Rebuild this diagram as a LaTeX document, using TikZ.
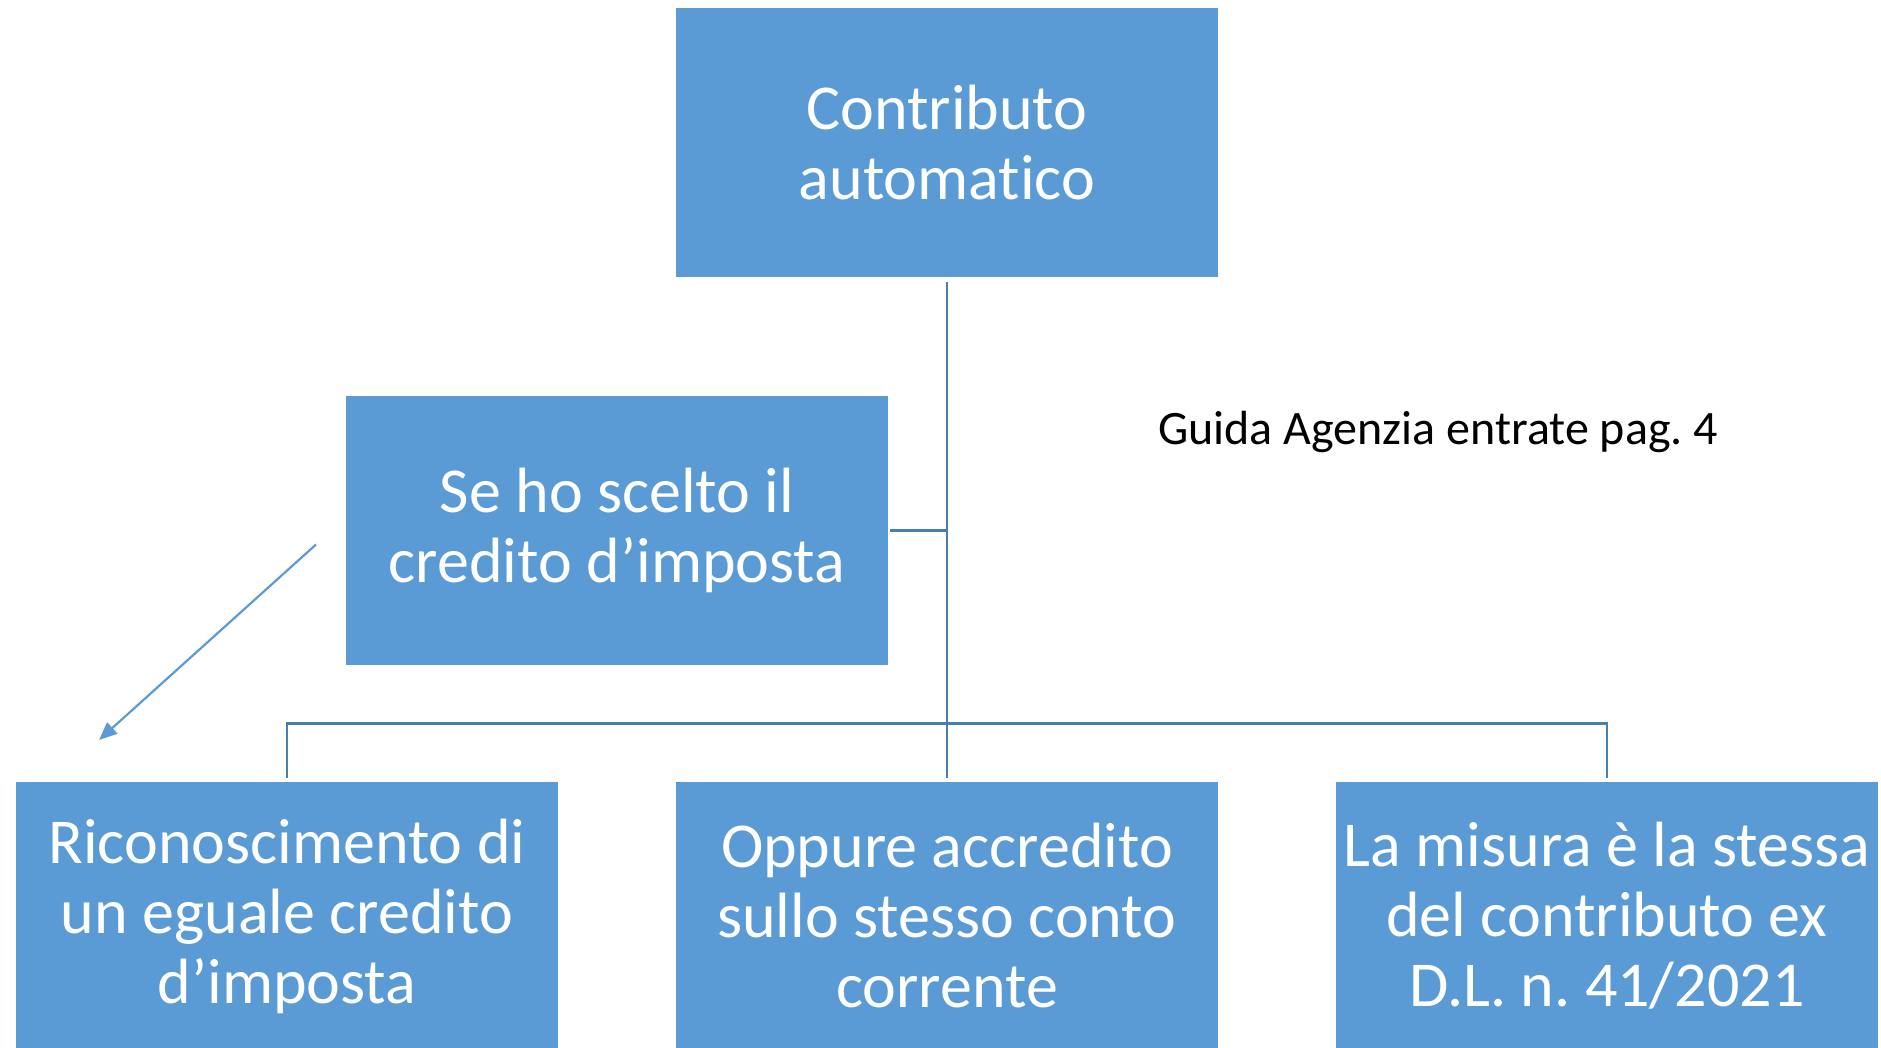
\documentclass[tikz,border=0pt]{standalone}
\usepackage{fontspec}
\setmainfont[Ligatures=NoCommon]{Carlito}
\usetikzlibrary{arrows.meta}
\definecolor{boxblue}{HTML}{5B9BD5}
\definecolor{lineblue}{HTML}{4A7EB0}
\frenchspacing
\tikzset{
  box/.style={fill=boxblue, draw=none, minimum width=542pt, minimum height=269pt,
    inner sep=0pt, text=white, align=center,
    font=\fontsize{64}{70}\selectfont},
  conn/.style={draw=lineblue, line width=2.6pt},
  arr/.style={draw=boxblue, line width=2.2pt, -{Triangle[length=18pt,width=15pt]}},
}
\begin{document}
\begin{tikzpicture}[x=1pt,y=-1pt]
\useasboundingbox (0,0) rectangle (1881,1048);
\begin{scope}
\clip (0,0) rectangle (1881,1048);
\node[box] (top) at (947,142.7) {Contributo\\automatico};
\node[box] (se) at (617,530.5) {Se ho scelto il\\credito d’imposta};
\node[box] (b1) at (287,916) {Riconoscimento di\\un eguale credito\\d’imposta};
\node[box] (b2) at (947,916) {Oppure accredito\\sullo stesso conto\\corrente};
\node[box] (b3) at (1607,916) {La misura è la stessa\\del contributo ex\\D.L. n. 41/2021};
\end{scope}
\node[font=\fontsize{48}{56}\selectfont, anchor=center] (guida) at (1438,431.6) {Guida Agenzia entrate pag. 4};
\coordinate (hub) at (947,723.6);
\draw[conn, shorten <=5pt, shorten >=3pt] (top.south) -- (b2.north);
\draw[conn, shorten <=2pt] (se.east) -- (se.east -| top.south);
\draw[conn] ([yshift=3pt]b1.north) -- (b1.north |- hub) -- (b3.north |- hub) -- ([yshift=3pt]b3.north);
\coordinate (as) at (316,544.5);
\coordinate (ae) at (99,740);
\draw[arr] (as) -- (ae);
\end{tikzpicture}
\end{document}
